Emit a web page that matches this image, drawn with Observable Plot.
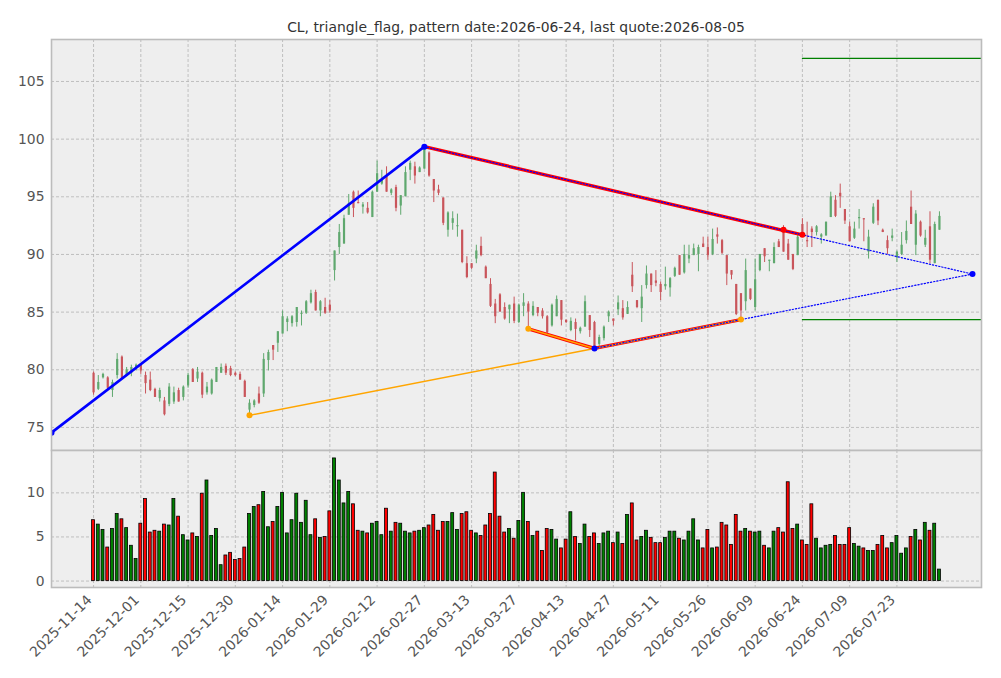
<!DOCTYPE html>
<html><head><meta charset="utf-8">
<script src="https://cdn.jsdelivr.net/npm/d3@7"></script>
<script src="https://cdn.jsdelivr.net/npm/@observablehq/plot@0.6"></script>
<style>
body{margin:0;background:#fff;}
#wrap{position:relative;width:1001px;height:678px;font-family:"DejaVu Sans";overflow:hidden;}
#title{position:absolute;top:18px;left:51px;width:930px;text-align:center;font-size:13.9px;line-height:18px;color:#333;white-space:nowrap;}
#topPanel,#botPanel{position:absolute;left:0;}
#topPanel{top:0;}
#botPanel{top:450px;}
svg{display:block;}
</style></head><body>
<div id="wrap"><div id="title">CL, triangle_flag, pattern date:2026-06-24, last quote:2026-08-05</div><div id="topPanel"></div><div id="botPanel"></div></div>
<script>
// ---- data (one entry per trading day, index 0 = 2025-11-14) ----
const opens = [79.7,78.3,79.3,79.3,78.2,79.5,81.1,79.5,79.7,80.1,80.4,79.5,79.1,78.3,77.5,77.3,77.0,77.2,78.2,77.6,
78.6,80.0,79.2,79.7,78.0,77.9,78.9,79.7,80.3,80.1,79.7,79.6,79.0,76.5,76.9,77.9,77.9,80.8,82.1,82.3,
83.1,84.1,84.0,84.1,84.8,84.9,85.8,86.7,85.1,85.4,85.6,88.6,90.6,90.9,93.4,95.4,94.5,94.1,94.0,93.2,
95.4,96.1,96.8,95.3,95.8,94.2,95.0,97.3,97.6,97.1,97.4,98.8,96.5,95.6,94.9,92.1,92.7,92.4,92.1,89.2,
89.2,89.6,90.7,88.9,87.4,85.7,86.5,85.4,85.2,85.7,84.1,85.5,85.7,84.7,85.4,85.1,84.6,83.8,84.6,86.0,
84.3,83.4,84.1,83.3,83.7,84.7,84.1,82.2,82.7,84.6,84.4,85.2,85.3,84.8,88.2,86.0,85.3,87.3,88.3,87.7,
87.4,87.2,87.1,88.1,89.9,88.4,89.6,89.9,90.0,90.9,90.6,90.0,91.7,91.2,89.9,88.6,87.4,86.6,85.9,87.0,
85.4,88.6,90.5,89.4,89.2,91.1,92.1,90.9,90.0,89.9,92.6,91.2,92.2,91.9,91.5,91.6,93.2,94.7,95.3,93.9,
92.4,91.4,93.1,93.1,90.2,92.7,94.7,92.1,91.2,91.4,89.7,90.0,91.2,94.1,90.8,92.8,90.8,92.4,89.2,92.1];
const highs = [79.8,79.5,79.7,79.4,79.1,81.4,81.2,80.2,80.4,80.5,80.5,79.8,79.8,78.4,78.4,77.6,78.8,78.5,78.4,78.6,
79.7,80.1,80.2,79.8,78.9,79.2,80.2,80.5,80.5,80.3,79.8,79.8,79.1,77.4,77.4,78.5,81.4,81.7,82.1,83.3,
85.1,84.6,84.7,85.4,85.1,86.0,86.9,86.9,86.0,86.2,86.0,90.3,92.6,93.4,95.2,95.5,95.5,94.5,94.5,95.5,
98.1,97.3,97.6,95.7,96.0,95.1,97.6,98.1,98.0,97.6,99.35,98.9,96.5,96.0,94.9,93.7,93.7,93.5,92.1,89.8,
89.2,90.8,91.5,89.0,87.9,86.1,86.6,85.8,85.6,86.3,85.7,86.6,85.9,85.9,85.4,85.3,84.7,85.7,86.4,86.0,
84.3,84.5,84.4,83.7,86.4,84.7,84.2,83.0,83.8,85.1,84.4,86.4,86.0,85.9,89.3,86.0,87.3,89.0,88.3,88.6,
87.6,88.9,88.0,88.9,89.9,90.8,90.8,90.9,90.8,91.5,91.5,92.2,92.3,91.3,89.9,88.6,87.4,86.6,89.6,87.0,
89.6,90.0,90.5,89.5,91.0,91.3,92.5,91.3,90.0,91.8,93.1,92.8,92.4,92.5,91.8,92.8,95.4,95.1,96.1,93.9,
92.8,92.8,93.9,93.1,92.1,94.4,94.7,92.2,91.6,92.2,90.3,91.9,92.9,95.5,93.8,92.9,92.1,93.7,92.8,93.7];
const lows = [77.8,78.2,79.2,78.2,77.6,79.2,79.2,79.4,79.4,79.9,79.6,77.9,78.1,77.6,77.2,76.0,76.8,77.0,77.2,77.3,
78.4,78.9,78.9,77.5,77.8,77.8,78.9,79.7,79.5,79.4,79.4,79.1,77.6,76.05,76.7,77.0,77.6,79.9,80.8,81.5,
83.1,83.3,83.7,83.7,83.8,84.8,85.7,85.1,84.6,84.8,84.9,87.7,90.0,90.9,93.4,93.2,94.4,93.5,93.5,93.2,
95.4,96.0,95.4,95.1,93.7,93.4,95.0,96.4,96.1,97.1,97.4,96.7,94.5,95.1,92.5,91.5,92.1,91.5,89.2,87.9,
88.7,89.2,89.8,87.9,85.4,84.0,85.0,84.3,84.0,84.0,84.0,84.6,83.55,84.6,84.6,84.4,83.1,83.7,84.6,83.8,
84.0,83.3,82.5,83.1,83.7,82.8,81.85,82.0,82.5,84.1,83.8,84.7,84.3,84.8,86.7,85.3,84.1,87.0,86.7,87.2,
86.0,86.9,86.3,88.0,88.2,88.3,89.2,89.9,88.5,90.6,89.5,89.9,90.9,90.0,87.3,87.8,84.7,84.35,85.1,86.0,
85.1,88.5,89.3,88.5,89.2,90.6,90.2,89.5,88.6,89.9,91.5,90.6,90.6,91.6,90.9,91.6,93.2,93.2,94.0,92.6,
91.1,91.3,92.2,91.1,89.6,92.6,92.5,91.9,90.0,91.1,89.3,89.9,90.9,92.6,89.9,91.5,90.6,89.2,89.2,92.1];
const closes = [78.0,78.9,79.6,78.4,78.9,80.9,79.2,80.0,80.2,80.4,79.9,78.8,78.2,77.6,78.2,76.1,78.5,78.0,77.2,78.5,
79.5,78.9,79.8,77.8,78.5,79.1,80.2,80.2,79.7,79.5,79.5,79.1,77.6,77.1,77.3,77.1,80.9,81.5,81.7,83.3,
84.6,84.4,84.6,85.4,84.9,85.9,86.6,85.1,85.9,84.9,85.1,90.3,91.9,93.1,94.4,94.0,94.4,94.3,93.6,95.4,
97.0,96.5,95.4,95.6,94.0,95.1,97.1,97.9,96.8,97.5,99.3,96.8,95.5,95.3,92.7,93.6,93.1,92.5,89.3,88.0,
88.8,90.3,89.9,87.9,85.5,84.6,85.0,84.4,85.6,84.2,85.6,85.8,85.0,85.5,84.9,84.6,83.2,85.6,86.1,84.3,
84.1,84.2,83.5,83.6,85.9,83.4,82.0,82.8,83.7,85.0,84.2,85.8,84.5,85.4,87.2,85.4,86.3,88.3,87.3,87.5,
86.7,87.4,87.9,88.8,88.2,90.0,89.9,90.5,90.6,90.6,89.9,91.3,91.5,90.1,88.3,88.2,84.8,85.1,88.6,86.1,
87.8,90.0,89.8,89.5,90.6,90.6,90.2,89.5,88.7,91.5,91.6,91.1,91.9,92.4,91.7,92.8,95.0,93.3,95.0,92.9,
91.1,92.2,93.2,93.0,91.5,94.1,92.9,91.9,90.5,91.6,90.2,90.8,92.0,92.6,93.5,91.6,91.4,89.5,92.6,93.3];
const volumes = [6.9,6.4,5.8,3.8,5.9,7.6,7.0,6.0,4.0,2.5,6.5,9.3,5.5,5.7,5.6,6.4,6.3,9.3,7.3,5.2,
4.6,5.4,5.0,9.9,11.4,5.1,5.9,1.8,2.9,3.2,2.4,2.5,3.8,7.6,8.4,8.6,10.1,6.1,6.7,8.4,
10.0,5.4,6.9,9.9,6.6,9.1,5.2,7.0,4.9,5.0,7.9,13.9,11.4,8.8,10.1,8.7,5.7,5.6,5.4,6.5,
6.7,5.2,8.2,5.6,6.6,6.5,5.6,5.4,5.6,5.7,6.0,6.3,7.5,5.7,6.7,6.7,7.7,5.8,7.6,7.8,
5.7,5.4,5.1,6.3,7.6,12.3,7.3,5.5,5.9,4.8,6.8,10.0,6.7,5.1,5.6,3.4,5.9,5.8,4.7,3.7,
4.7,7.8,5.0,4.2,6.4,5.0,5.4,4.2,5.4,5.6,4.3,5.5,4.2,7.5,8.8,4.6,5.0,5.7,4.9,4.3,
4.3,4.9,5.6,5.6,4.8,4.6,5.6,7.0,4.6,3.7,5.8,3.7,3.8,6.6,6.3,4.1,7.5,5.6,5.9,5.6,
5.5,5.6,4.0,3.7,5.6,6.0,5.5,11.2,5.9,6.4,4.6,4.1,8.7,4.8,3.7,4.0,4.1,5.1,4.1,4.1,
6.0,4.2,3.9,3.7,3.4,3.4,4.1,5.1,3.7,4.3,5.1,3.1,3.7,5.0,5.8,4.6,6.6,5.7,6.5,1.3];

const tickIndex = [0,10,20,30,40,50,60,70,80,90,100,110,120,130,140,150,160,170];
const tickLabels = ["2025-11-14","2025-12-01","2025-12-15","2025-12-30","2026-01-14","2026-01-29",
"2026-02-12","2026-02-27","2026-03-13","2026-03-27","2026-04-13","2026-04-27","2026-05-11",
"2026-05-26","2026-06-09","2026-06-24","2026-07-09","2026-07-23"];
const priceTicks = [75,80,85,90,95,100,105];
const volumeTicks = [0,5,10];

// pattern geometry: [trading-day index, price]
const patternIndex = 150;
const flagpole = [[-8.9,74.55],[70,99.35]];
const resistance = [[70,99.35],[150,91.7]];
const support = [[92,83.55],[106,81.85],[137,84.35]];
const resistanceProjection = [[70,99.35],[150,91.7],[186,88.3]];
const supportProjection = [[106,81.85],[137,84.35],[186,88.3]];
const baseLine = [[33,76.05],[106,81.85]];
const targets = [107.0, 84.35];
const blueDots = [[-8.9,74.55],[70,99.35],[106,81.85],[186,88.3]];
const redDots = [[146,92.15],[150,91.7]];
const orangeDots = [[33,76.05],[92,83.55],[137,84.35]];

const xDomain = [-8.9, 187.9];
const upGreen = "#5fa86e", downRed = "#c9555b";

const candles = opens.map((o,i)=>({i, open:o, high:highs[i], low:lows[i], close:closes[i], vol:volumes[i], up: closes[i] >= o}));

const gridStyle = {stroke:"#b2b2b2", strokeOpacity:1, strokeWidth:0.8, strokeDasharray:"3,2"};
const px = d=>d[0], py = d=>d[1];

const priceChart = Plot.plot({
  width:1001, height:450, marginTop:39, marginLeft:51, marginRight:20, marginBottom:0,
  x:{domain:xDomain, axis:null},
  y:{domain:[73.0,108.64], axis:null},
  color:{type:"identity"},
  style:{background:"transparent", fontFamily:"DejaVu Sans", fontSize:"13.9px", color:"#555", overflow:"visible"},
  marks:[
    Plot.frame({fill:"#eeeeee"}),
    Plot.gridX(tickIndex, gridStyle),
    Plot.gridY(priceTicks, gridStyle),
    Plot.axisY(priceTicks, {tickSize:0, tickPadding:7, fontSize:13.9, fill:"#555", label:null}),
    Plot.ruleX(candles, {x:"i", y1:"low", y2:"high", stroke:d=>d.up?upGreen:downRed, strokeWidth:1}),
    Plot.ruleX(candles, {x:"i", y1:"open", y2:"close", stroke:d=>d.up?upGreen:downRed, strokeWidth:2.2}),
    Plot.line(flagpole, {x:px, y:py, stroke:"#0000ff", strokeWidth:2.6, clip:true}),
    Plot.line(baseLine, {x:px, y:py, stroke:"#ffa500", strokeWidth:1.4}),
    Plot.line(resistance, {x:px, y:py, stroke:"#ff0000", strokeWidth:3.4}),
    Plot.line(support, {x:px, y:py, stroke:"#ff0000", strokeWidth:3.4}),
    Plot.line(support, {x:px, y:py, stroke:"#ffa500", strokeWidth:1.6}),
    Plot.line(resistanceProjection, {x:px, y:py, stroke:"#0000ff", strokeWidth:1.2, strokeDasharray:"1.3,1.9"}),
    Plot.line(supportProjection, {x:px, y:py, stroke:"#0000ff", strokeWidth:1.2, strokeDasharray:"1.3,1.9"}),
    Plot.ruleY(targets, {x1:patternIndex, x2:xDomain[1], stroke:"#008000", strokeWidth:1.3}),
    Plot.dot(orangeDots, {x:px, y:py, r:3, fill:"#ffa500", stroke:"none"}),
    Plot.dot(redDots, {x:px, y:py, r:3, fill:"#ff0000", stroke:"none"}),
    Plot.dot(blueDots, {x:px, y:py, r:3, fill:"#0000ff", stroke:"none", clip:true}),
    Plot.frame({stroke:"#bcbcbc", strokeWidth:1.6})
  ]
});
document.getElementById("topPanel").appendChild(priceChart);

const volumeChart = Plot.plot({
  width:1001, height:228, marginTop:0, marginLeft:51, marginRight:20, marginBottom:91,
  x:{domain:xDomain, axis:null},
  y:{domain:[-0.73,14.8], axis:null},
  color:{type:"identity"},
  style:{background:"transparent", fontFamily:"DejaVu Sans", fontSize:"13.9px", color:"#555", overflow:"visible"},
  marks:[
    Plot.frame({fill:"#eeeeee"}),
    Plot.gridX(tickIndex, gridStyle),
    Plot.gridY(volumeTicks, gridStyle),
    Plot.axisY(volumeTicks, {tickSize:0, tickPadding:7, fontSize:13.9, fill:"#555", label:null}),
    Plot.axisX(tickIndex, {tickSize:0, tickPadding:10, tickRotate:-45, fontSize:13.9, fill:"#555", dx:-4, label:null,
      tickFormat:d=>tickLabels[tickIndex.indexOf(d)]}),
    Plot.rectY(candles, {x1:d=>d.i-0.31, x2:d=>d.i+0.31, y1:0, y2:"vol",
      fill:d=>d.up?"#008000":"#ff0000", stroke:"#000000", strokeWidth:0.8}),
    Plot.frame({stroke:"#bcbcbc", strokeWidth:1.6})
  ]
});
document.getElementById("botPanel").appendChild(volumeChart);
</script>
</body></html>
